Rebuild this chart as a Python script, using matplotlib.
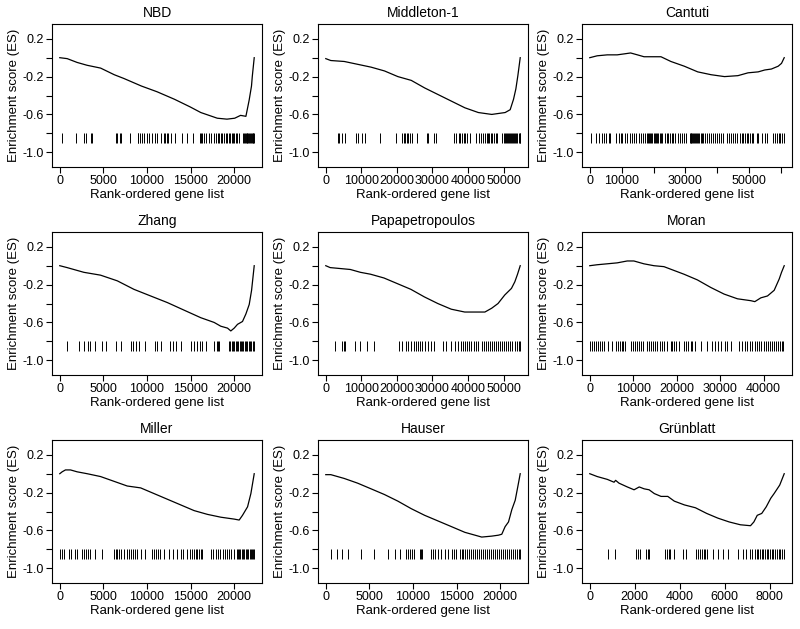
import numpy as np
import matplotlib
matplotlib.use("Agg")
from matplotlib import pyplot as plt

plt.rcParams['font.family'] = ['Liberation Sans', 'DejaVu Sans']

# ---- NBD ----
nbd_n = 22283
nbd_x = [0, 850, 1980, 3120, 4680, 6240, 7350, 9360, 11140, 13150, 14930, 16160,
         18050, 19160, 20050, 20720, 21330, 21700, 21970, 22060, 22283]
nbd_es = [0.0, -0.01, -0.05, -0.08, -0.11, -0.18, -0.22, -0.30, -0.36, -0.44, -0.52, -0.58,
          -0.64, -0.65, -0.64, -0.61, -0.62, -0.45, -0.30, -0.20, 0.0]
nbd_hits = [230, 1850, 2740, 3010, 3620, 3700, 6400, 6590, 6860, 6980, 8100, 8910, 9020,
            9170, 9370, 9640, 9950, 10250, 10520, 10910, 11180, 11570, 11950, 12110, 12260,
            12450, 12720, 13220, 14000, 14570, 15270, 16040, 16190, 16350, 16500, 16770,
            17080, 17350, 17660, 17960, 18120, 18270, 18430, 18620, 18810, 19010, 19200,
            19390, 19550, 19700, 19860, 20010, 20170, 20350, 20550, 21010, 21100, 21200,
            21300, 21400, 21500, 21600, 21700, 21800, 21900, 22000, 22100, 22200, 22280]

# ---- Middleton-1 ----
mid_n = 54675
mid_x = [0, 1410, 5190, 8960, 12730, 16500, 20270, 24040, 27810, 31580, 35350, 39120,
         42900, 46670, 48550, 50440, 51850, 52790, 53450, 54010, 54675]
mid_es = [-0.01, -0.03, -0.04, -0.07, -0.10, -0.14, -0.20, -0.24, -0.32, -0.39, -0.46, -0.53,
          -0.58, -0.60, -0.59, -0.58, -0.55, -0.44, -0.33, -0.19, 0.0]
mid_hits = [3310, 3780, 4450, 5490, 8510, 9180, 10120, 11160, 15140, 19870, 21570, 21950,
            22330, 22700, 23180, 23650, 24120, 25730, 28380, 28660, 30460, 31030, 35950,
            36610, 37370, 37840, 38310, 38790, 39260, 39730, 40680, 42290, 43040, 43700,
            44270, 44650, 45220, 45600, 45980, 46350, 46830, 47300, 47770, 48250, 49670,
            50000, 50300, 50600, 50900, 51200, 51500, 51800, 52100, 52400, 52700, 53000,
            53300, 53600, 53900, 54200, 54500, 54670]

# ---- Cantuti ----
can_n = 61000
can_x = [0, 2320, 5490, 8600, 10740, 12810, 14950, 17020, 19150, 22330, 25440, 29650,
         33860, 38060, 42270, 46480, 49650, 52830, 54900, 56970, 59110, 60150, 61000]
can_es = [0.0, 0.02, 0.03, 0.03, 0.04, 0.05, 0.03, 0.01, 0.01, 0.01, -0.04, -0.09,
          -0.15, -0.18, -0.20, -0.19, -0.16, -0.15, -0.13, -0.12, -0.09, -0.06, 0.0]
can_hits = [530, 2000, 2850, 3690, 4430, 5160, 6000, 6320, 8320, 9170, 9690, 10220, 11060,
            11800, 12540, 13170, 13910, 14430, 15490, 16220, 16750, 17380, 17800, 18200,
            18500, 18900, 19300, 19600, 20000, 20400, 20800, 21100, 21500, 21900, 22300,
            22600, 23700, 24130, 24650, 25180, 25710, 26020, 26870, 27600, 28340, 28970,
            29710, 30240, 31290, 31600, 31900, 32200, 32500, 32800, 33100, 33400, 33700,
            34000, 34400, 34800, 35200, 35600, 36000, 36770, 37400, 38030, 38660, 39300,
            39930, 40560, 41190, 41830, 43090, 43730, 44250, 44780, 45410, 46040, 47100,
            47620, 48150, 48680, 49200, 49730, 50260, 50780, 51310, 52360, 52890, 53940,
            55000, 55520, 57630, 58160, 58680, 59210, 59740, 60260, 60790]

# ---- Zhang ----
zha_n = 22283
zha_x = [0, 840, 2760, 4670, 6590, 8500, 10410, 12330, 14240, 16160, 17690, 18450,
         19220, 19600, 19990, 20370, 20940, 21330, 21710, 21980, 22283]
zha_es = [0.0, -0.02, -0.07, -0.10, -0.16, -0.25, -0.32, -0.39, -0.47, -0.55, -0.60, -0.64,
          -0.66, -0.69, -0.66, -0.62, -0.59, -0.51, -0.41, -0.26, 0.0]
zha_hits = [840, 2180, 2760, 3220, 3520, 4020, 4860, 5250, 6390, 6970, 8190, 8390, 8690,
            9070, 9760, 10870, 11180, 11640, 12600, 12980, 13360, 13860, 15010, 15390,
            15700, 16040, 16350, 16730, 17690, 18000, 18150, 18300, 19410, 19550, 19700,
            19850, 20000, 20150, 20300, 20450, 20600, 20750, 20900, 21050, 21200, 21350,
            21500, 21650, 21800, 21950, 22100, 22280]

# ---- Papapetropoulos ----
pap_n = 54675
pap_x = [0, 1230, 4070, 6910, 9740, 12580, 16370, 20150, 23930, 27720, 31500, 35280,
         39070, 41910, 44740, 46640, 48430, 50320, 52210, 53160, 53920, 54675]
pap_es = [0.0, -0.02, -0.03, -0.04, -0.07, -0.09, -0.13, -0.19, -0.25, -0.33, -0.40, -0.46,
          -0.49, -0.49, -0.49, -0.45, -0.40, -0.31, -0.24, -0.17, -0.09, 0.0]
pap_hits = [2460, 4540, 5010, 5390, 8320, 9740, 11640, 13530, 20620, 21570, 22510, 23180,
            23930, 24880, 25350, 25830, 26390, 26960, 27910, 28660, 29610, 30560, 32920,
            33870, 35290, 36230, 37180, 38120, 38690, 39260, 39830, 40390, 40960, 41720,
            42290, 42850, 43990, 44560, 45120, 45690, 46260, 46830, 47390, 47960, 48530,
            49100, 49670, 50230, 50800, 51370, 51940, 52500, 53070, 53640, 54210, 54670]

# ---- Moran ----
mor_n = 44770
mor_x = [0, 1690, 4000, 6310, 8620, 10150, 12460, 14770, 17080, 19380, 21690, 24770,
         27850, 30920, 34000, 37080, 38000, 39380, 40920, 42460, 43620, 44150, 44770]
mor_es = [0.0, 0.01, 0.02, 0.03, 0.05, 0.05, 0.02, 0.0, -0.01, -0.05, -0.09, -0.15,
          -0.23, -0.30, -0.35, -0.37, -0.38, -0.34, -0.32, -0.26, -0.14, -0.07, 0.0]
mor_hits = [150, 620, 1080, 1460, 1850, 2460, 2850, 3380, 4150, 5150, 6000, 6460, 6920,
            7310, 7690, 8080, 9380, 9840, 10300, 10770, 11230, 11690, 12150, 13070, 13610,
            14000, 14460, 14920, 15530, 16150, 16690, 17070, 17840, 18610, 18990, 19380,
            19920, 20530, 21690, 22150, 22610, 23220, 23610, 24150, 25680, 26920, 28220,
            28760, 29530, 30300, 31140, 31680, 32450, 34370, 35140, 35680, 36300, 36910,
            37450, 37990, 38450, 38990, 39530, 40150, 40610, 41070, 41530, 41990, 42450,
            42910, 43370, 43830, 44290, 44600]

# ---- Miller ----
mil_n = 22283
mil_x = [0, 270, 650, 1230, 1990, 3140, 4670, 6200, 7730, 9270, 10800, 12330, 13860,
         15390, 16920, 18460, 19990, 20560, 20940, 21520, 21900, 22283]
mil_es = [0.0, 0.02, 0.04, 0.04, 0.02, 0.0, -0.03, -0.08, -0.13, -0.15, -0.21, -0.27,
          -0.33, -0.39, -0.43, -0.46, -0.48, -0.49, -0.44, -0.35, -0.21, 0.0]
mil_hits = [80, 270, 460, 1030, 1230, 1800, 1990, 2570, 2830, 3060, 3220, 3520, 3980,
            4860, 6200, 6390, 6590, 6820, 7050, 7350, 7660, 7930, 8190, 8390, 8580, 8880,
            9270, 9730, 10610, 10800, 11070, 11300, 11490, 11950, 12520, 12940, 13400,
            13860, 14170, 14630, 14930, 15160, 15390, 15580, 15780, 15970, 16160, 16350,
            17310, 17610, 17880, 18150, 18380, 18650, 18920, 19150, 19380, 19610, 19990,
            20260, 20400, 20550, 20700, 20850, 21000, 21150, 21300, 21450, 21600, 21750,
            21900, 22050, 22200, 22280]

# ---- Hauser ----
hau_n = 22283
hau_x = [0, 580, 960, 2110, 3650, 5190, 6720, 8260, 9800, 11330, 12870, 14410, 15940,
         17100, 17870, 19020, 19790, 20170, 20550, 20940, 21320, 21710, 22020, 22283]
hau_es = [-0.01, -0.01, -0.02, -0.05, -0.10, -0.16, -0.22, -0.29, -0.37, -0.44, -0.50,
          -0.56, -0.62, -0.65, -0.67, -0.66, -0.65, -0.64, -0.56, -0.51, -0.38, -0.28,
          -0.13, 0.0]
hau_hits = [650, 1270, 1840, 2500, 4030, 5570, 7110, 7950, 8450, 9220, 9410, 9610, 9870,
            10100, 10760, 10950, 11060, 12100, 12290, 12560, 12870, 13180, 13640, 14020,
            14410, 14710, 14980, 15370, 15560, 15750, 15940, 16140, 16410, 16640, 16870,
            17100, 17330, 17560, 17790, 18020, 18250, 18480, 18710, 18940, 19170, 19400,
            19630, 19860, 20090, 20320, 20550, 20790, 21020, 21250, 21480, 21710, 21940,
            22170, 22280]

# ---- Grünblatt ----
gru_n = 8650
gru_x = [0, 330, 780, 1080, 1150, 1300, 1670, 1970, 2200, 2420, 2640, 2870, 3170, 3470,
         3760, 4210, 4700, 5200, 5700, 6200, 6700, 7150, 7300, 7450, 7650, 7850, 8050,
         8200, 8450, 8650]
gru_es = [0.0, -0.03, -0.06, -0.09, -0.07, -0.10, -0.14, -0.17, -0.14, -0.16, -0.17,
          -0.21, -0.24, -0.24, -0.29, -0.33, -0.36, -0.42, -0.47, -0.51, -0.54, -0.55,
          -0.51, -0.44, -0.42, -0.35, -0.26, -0.21, -0.12, 0.0]
gru_hits = [810, 1120, 2050, 2150, 2240, 2490, 2570, 2640, 3350, 3440, 3540, 3590, 3740,
            4140, 4290, 4710, 4810, 4890, 4990, 5080, 5140, 5230, 5480, 5710, 5930, 6160,
            6600, 6800, 6930, 7130, 7230, 7350, 7430, 7500, 7570, 7650, 7720, 7800, 7870,
            7950, 8020, 8100, 8170, 8250, 8320, 8400, 8470, 8550, 8620]

# tick positions and which get labels
ticks_22k = [0, 5000, 10000, 15000, 20000]
ticks_55k = [0, 10000, 20000, 30000, 40000, 50000]
ticks_61k = [0, 10000, 20000, 30000, 40000, 50000, 60000]
labels_61k = ['0', '10000', '', '30000', '', '50000', '']
ticks_45k = [0, 10000, 20000, 30000, 40000]
ticks_8k = [0, 2000, 4000, 6000, 8000]

panels = [
    ("NBD", nbd_n, nbd_x, nbd_es, nbd_hits, ticks_22k, None),
    ("Middleton-1", mid_n, mid_x, mid_es, mid_hits, ticks_55k, None),
    ("Cantuti", can_n, can_x, can_es, can_hits, ticks_61k, labels_61k),
    ("Zhang", zha_n, zha_x, zha_es, zha_hits, ticks_22k, None),
    ("Papapetropoulos", pap_n, pap_x, pap_es, pap_hits, ticks_55k, None),
    ("Moran", mor_n, mor_x, mor_es, mor_hits, ticks_45k, None),
    ("Miller", mil_n, mil_x, mil_es, mil_hits, ticks_22k, None),
    ("Hauser", hau_n, hau_x, hau_es, hau_hits, ticks_22k, None),
    ("Grünblatt", gru_n, gru_x, gru_es, gru_hits, ticks_8k, None),
]

fig = plt.figure(figsize=(8, 6.29), dpi=100)

lefts = [0.065, 0.3975, 0.7275]
bottoms = [0.7345, 0.4038, 0.0731]
w, h = 0.2625, 0.2273

for i, (name, n, xs, es, hits, xticks, xlabels) in enumerate(panels):
    ax = fig.add_axes([lefts[i % 3], bottoms[i // 3], w, h])
    ax.plot(xs, es, color='black', lw=0.9)
    ax.vlines(hits, -0.9, -0.8, color='black', lw=0.7)
    ax.set_xlim(-0.04 * n, 1.04 * n)
    ax.set_ylim(-1.156, 0.356)
    ax.set_xticks(xticks)
    if xlabels is not None:
        ax.set_xticklabels(xlabels)
    else:
        ax.set_xticklabels([str(t) for t in xticks])
    ax.set_yticks([0.2, 0.0, -0.2, -0.4, -0.6, -0.8, -1.0])
    ax.set_yticklabels(['0.2', '', '-0.2', '', '-0.6', '', '-1.0'])
    ax.tick_params(direction='out', length=4, width=0.8, labelsize=9, pad=2)
    for s in ax.spines.values():
        s.set_linewidth(0.8)
    ax.set_title(name, fontsize=10, pad=5)
    ax.set_xlabel("Rank-ordered gene list", fontsize=9.5, labelpad=1)
    ax.set_ylabel("Enrichment score (ES)", fontsize=9.5, labelpad=2)

fig.savefig("out.png", dpi=100)
